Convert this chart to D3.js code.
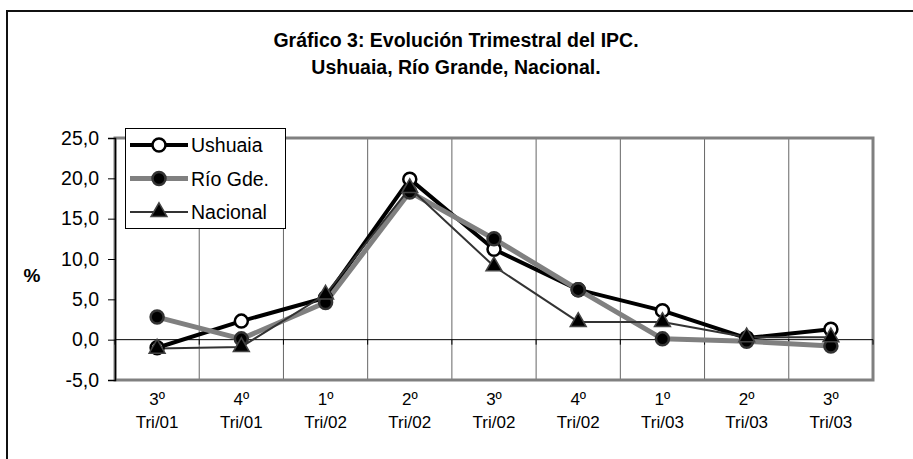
<!DOCTYPE html>
<html>
<head>
<meta charset="utf-8">
<script src="https://cdn.jsdelivr.net/npm/d3@7"></script>
<style>
  body { margin: 0; background: #fff; }
  svg { font-family: Arial, "Liberation Sans", sans-serif; }
</style>
</head>
<body>
<svg id="chart" width="913" height="459"></svg>
<script>
// Data
const quarters = ["3º", "4º", "1º", "2º", "3º", "4º", "1º", "2º", "3º"];
const years = ["Tri/01", "Tri/01", "Tri/02", "Tri/02", "Tri/02", "Tri/02", "Tri/03", "Tri/03", "Tri/03"];
const ushuaia = [-1.0, 2.3, 5.2, 19.9, 11.2, 6.2, 3.6, 0.2, 1.3];
const rioGrande = [2.8, 0.1, 4.6, 18.3, 12.5, 6.2, 0.1, -0.2, -0.8];
const nacional = [-1.1, -0.9, 5.6, 18.8, 9.1, 2.2, 2.2, 0.3, 0.3];
const yTicks = [-5, 0, 5, 10, 15, 20, 25];

const series = [
  {name: "Ushuaia", values: ushuaia, line: "#000", width: 4, marker: "circle", fill: "#fff", stroke: "#000"},
  {name: "Río Gde.", values: rioGrande, line: "#808080", width: 5, marker: "circle", fill: "#000", stroke: "#333"},
  {name: "Nacional", values: nacional, line: "#333", width: 2, marker: "triangle", fill: "#000", stroke: "#444"}
];

const svg = d3.select("#chart");
const margin = {top: 138, right: 40, bottom: 79, left: 115};
const width = 913 - margin.left - margin.right,
      height = 459 - margin.top - margin.bottom;

// Outer frame
svg.append("rect")
  .attr("x", 7).attr("y", 11).attr("width", 1000).attr("height", 1000)
  .attr("fill", "none").attr("stroke", "#111").attr("stroke-width", 2);

// Title
const title = svg.append("text")
  .attr("text-anchor", "middle")
  .style("font-size", "19.5px")
  .style("font-weight", "bold");
title.append("tspan").attr("x", 456).attr("y", 47).text("Gráfico 3: Evolución Trimestral del IPC.");
title.append("tspan").attr("x", 456).attr("y", 74).text("Ushuaia, Río Grande, Nacional.");

const g = svg.append("g").attr("transform", `translate(${margin.left},${margin.top})`);

const idx = d3.range(quarters.length);
const xScale = d3.scaleBand().domain(idx).range([0, width]);
const yScale = d3.scaleLinear().domain([-5, 25]).range([height, 0]);
const cx = i => xScale(i) + xScale.bandwidth() / 2;

// Vertical gridlines at category boundaries
g.selectAll(".vgrid")
  .data(idx.slice(1))
  .enter().append("line")
  .attr("x1", d => xScale(d)).attr("x2", d => xScale(d))
  .attr("y1", 0).attr("y2", height)
  .attr("stroke", "#666").attr("stroke-width", 1);

// Plot area border (gray)
g.append("rect")
  .attr("x", 0).attr("y", 0).attr("width", width).attr("height", height)
  .attr("fill", "none").attr("stroke", "#808080").attr("stroke-width", 3);

// Y axis
const yAxis = g.append("g")
  .call(d3.axisLeft(yScale).tickValues(yTicks).tickSize(7)
    .tickFormat(d => d3.format(".1f")(d).replace(".", ",").replace("−", "-")));
yAxis.select(".domain").attr("stroke", "#000").attr("stroke-width", 1.5);
yAxis.selectAll(".tick line").attr("stroke", "#000");
yAxis.selectAll(".tick text").attr("x", -16)
  .style("font-size", "19.5px").style("font-family", "Arial, 'Liberation Sans', sans-serif").attr("fill", "#000");

// Zero line (category axis)
g.append("line")
  .attr("x1", 0).attr("x2", width)
  .attr("y1", yScale(0)).attr("y2", yScale(0))
  .attr("stroke", "#000").attr("stroke-width", 1);
g.selectAll(".xtick")
  .data(idx.concat([quarters.length]))
  .enter().append("line")
  .attr("x1", d => d < quarters.length ? xScale(d) : width)
  .attr("x2", d => d < quarters.length ? xScale(d) : width)
  .attr("y1", yScale(0)).attr("y2", yScale(0) + 5)
  .attr("stroke", "#000");

// X labels
const xl = g.selectAll(".xlab")
  .data(idx)
  .enter().append("text")
  .attr("text-anchor", "middle")
  .style("font-size", "17px");
xl.append("tspan").attr("x", cx).attr("y", height + 25).text(i => quarters[i]);
xl.append("tspan").attr("x", cx).attr("y", height + 48).text(i => years[i]);

// Y label
svg.append("text")
  .attr("x", 32).attr("y", 282)
  .attr("text-anchor", "middle")
  .style("font-size", "19px").style("font-weight", "bold")
  .text("%");

// Lines
const line = d3.line().x((d, i) => cx(i)).y(d => yScale(d));
series.forEach(s => {
  g.append("path")
    .datum(s.values)
    .attr("d", line)
    .attr("fill", "none")
    .attr("stroke", s.line)
    .attr("stroke-width", s.width)
    .attr("stroke-linejoin", "round");
});

const triangle = d3.symbol().type(d3.symbolTriangle).size(110);

function drawMarker(sel, s, x, y) {
  if (s.marker === "circle") {
    sel.append("circle").attr("cx", x).attr("cy", y).attr("r", 6.5)
      .attr("fill", s.fill).attr("stroke", s.stroke).attr("stroke-width", 2.5);
  } else {
    sel.append("path").attr("d", triangle).attr("transform", `translate(${x},${y})`)
      .attr("fill", s.fill).attr("stroke", s.stroke).attr("stroke-width", 1.5);
  }
}

// Markers
series.forEach(s => {
  s.values.forEach((v, i) => drawMarker(g, s, cx(i), yScale(v)));
});

// Legend
const legend = svg.append("g");
legend.append("rect")
  .attr("x", 125.5).attr("y", 128.5).attr("width", 160).attr("height", 100)
  .attr("fill", "#fff").attr("stroke", "#000").attr("stroke-width", 1);
series.forEach((s, i) => {
  const ly = 145 + i * 33.5;
  legend.append("line")
    .attr("x1", 130).attr("x2", 188).attr("y1", ly).attr("y2", ly)
    .attr("stroke", s.line).attr("stroke-width", s.width);
  drawMarker(legend, s, 159, ly);
  legend.append("text")
    .attr("x", 191).attr("y", ly + 7)
    .style("font-size", "19.5px")
    .text(s.name);
});
</script>
</body>
</html>
